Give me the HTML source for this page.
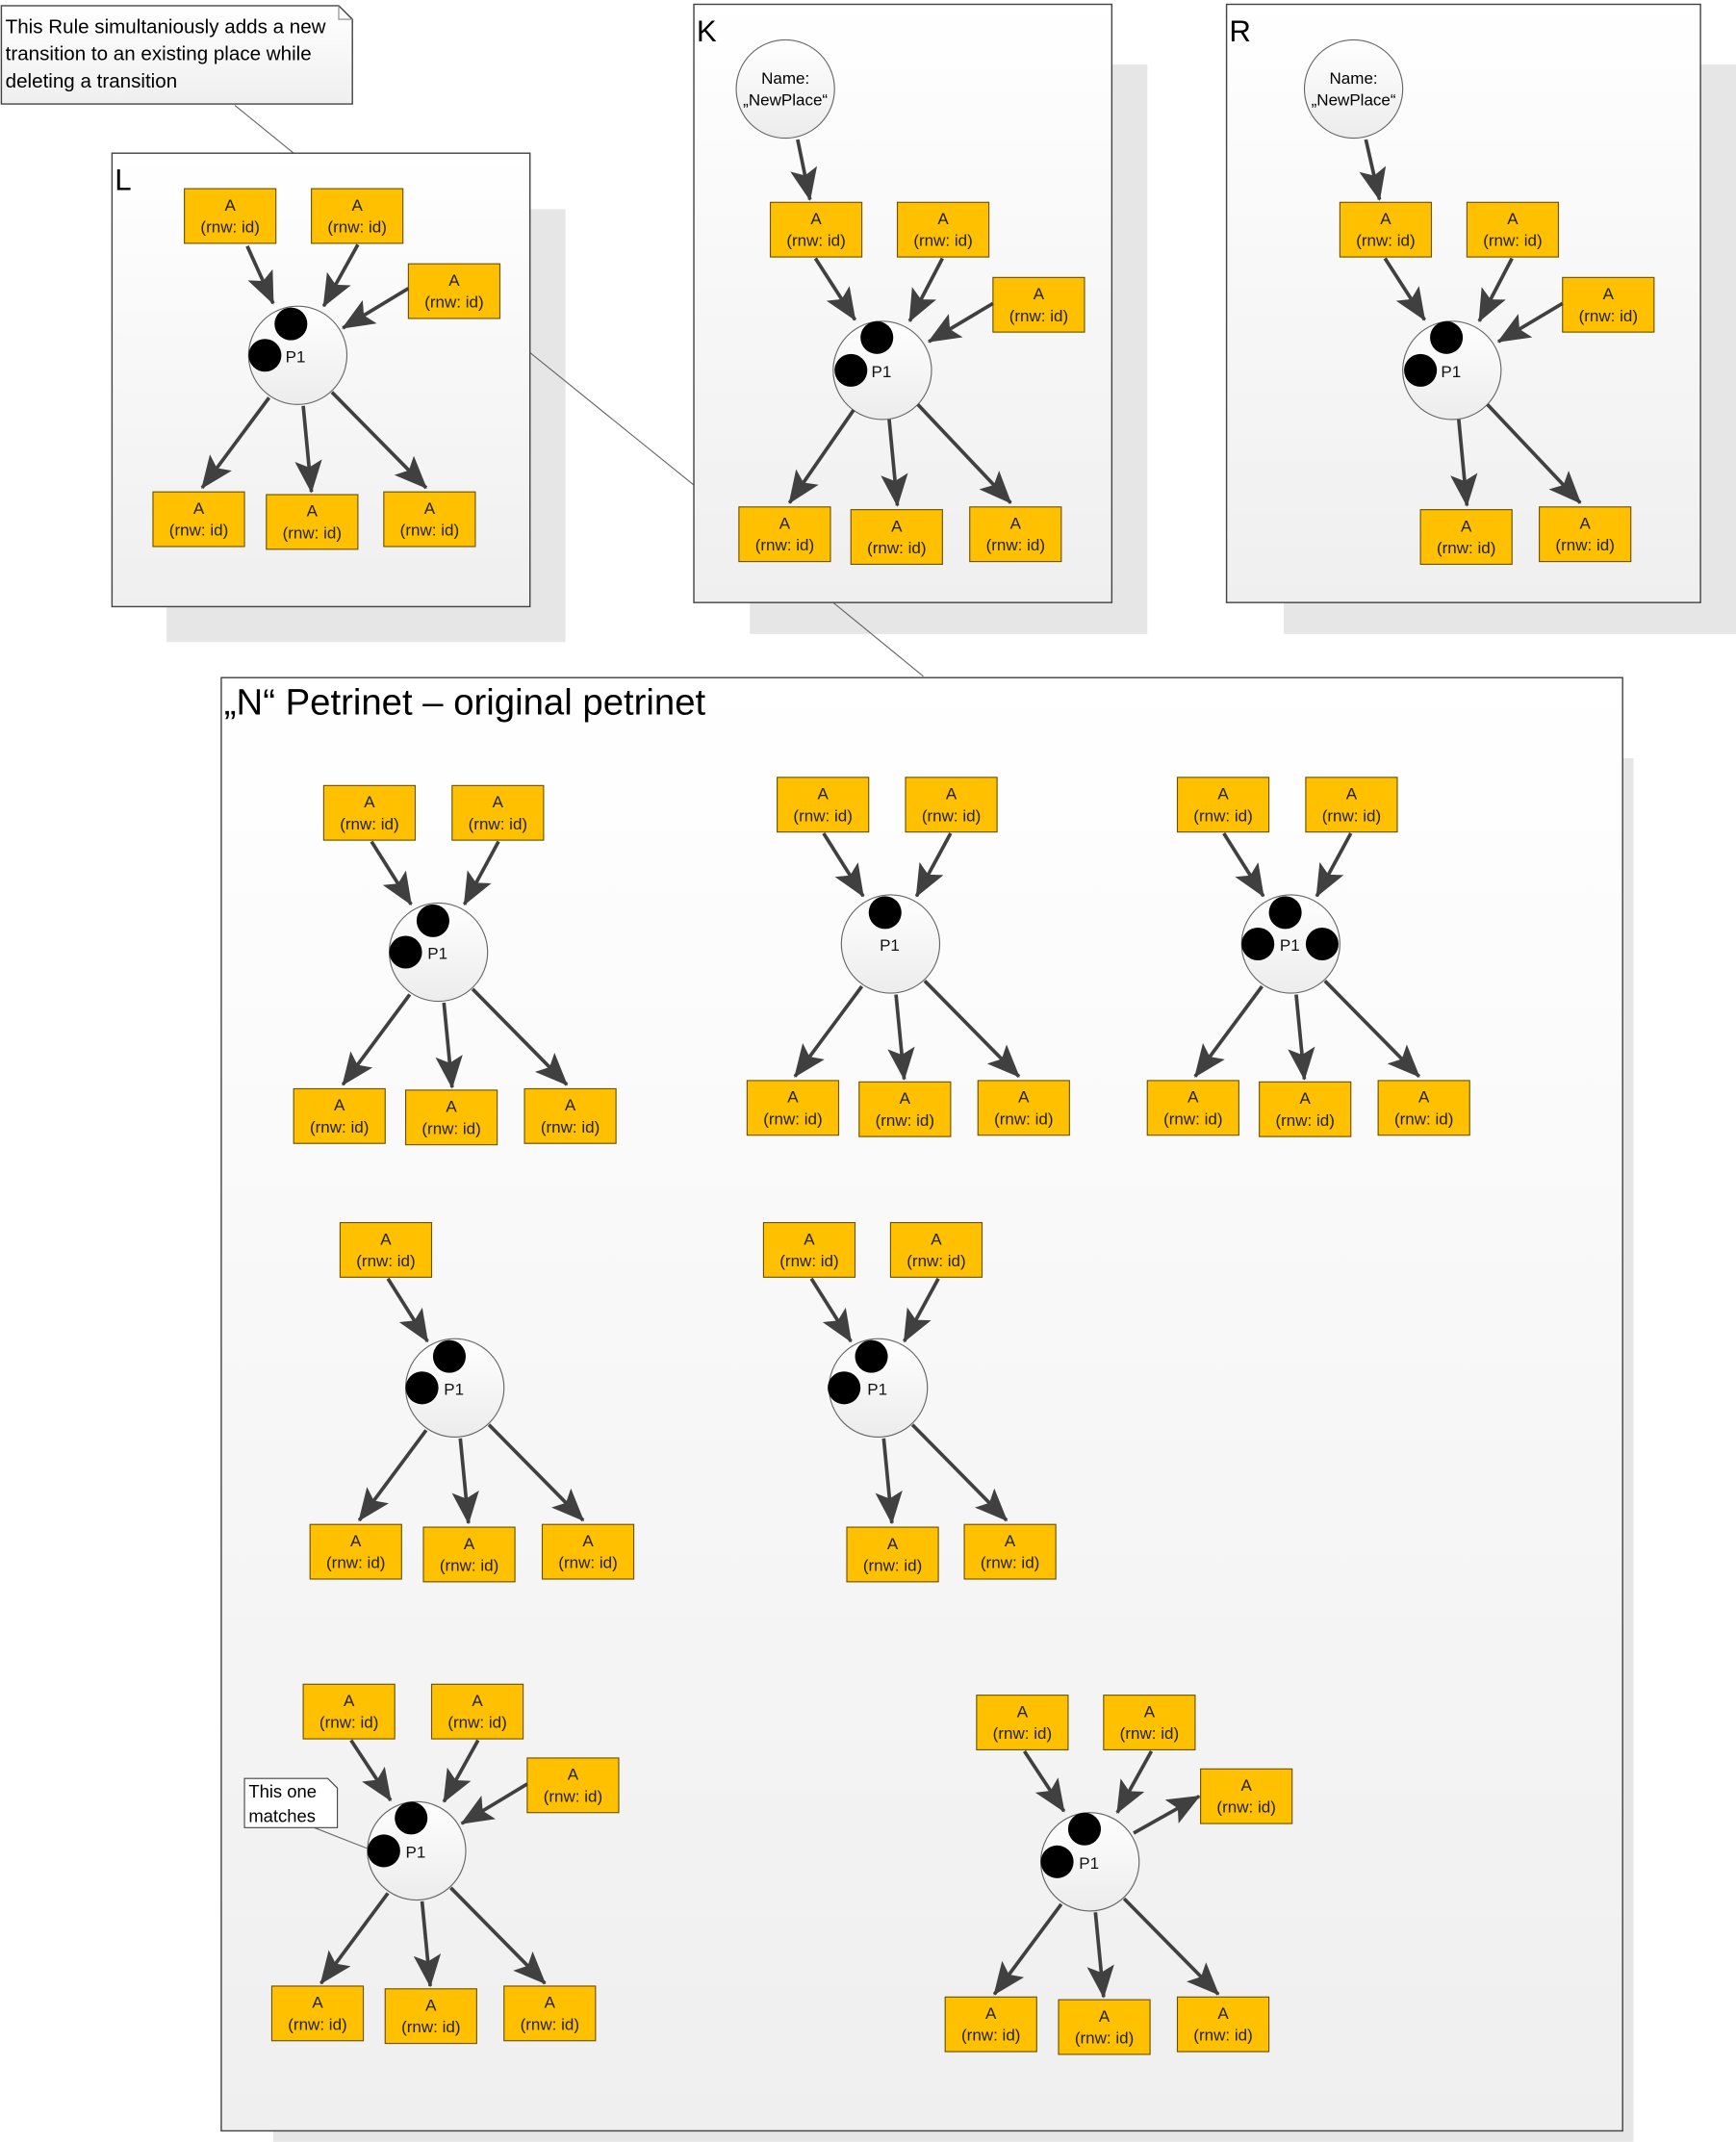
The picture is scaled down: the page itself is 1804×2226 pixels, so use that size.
<!DOCTYPE html>
<html><head><meta charset="utf-8">
<style>
html,body{margin:0;padding:0;background:#fff;}
svg{display:block;}
.t rect{fill:#FFC000;stroke:#6b5300;stroke-width:0.8;}
text{font-family:"Liberation Sans",sans-serif;}
.t text{font-size:12px;fill:#222;text-anchor:middle;}
.a{stroke:#404040;stroke-width:2.6;fill:none;marker-end:url(#ah);}
.pl{fill:url(#pg);stroke:#666;stroke-width:0.8;}
.pt{font-size:12px;fill:#111;}
</style></head><body>
<svg width="1804" height="2226" viewBox="0 0 1271 1568" xmlns="http://www.w3.org/2000/svg">
<defs>
<marker id="ah" markerUnits="userSpaceOnUse" markerWidth="26" markerHeight="22" refX="23" refY="10" orient="auto">
<path d="M0,0 L24,10 L0,20 L5,10 z" fill="#404040"/></marker>
<linearGradient id="bg" x1="0" y1="0" x2="0" y2="1"><stop offset="0" stop-color="#ffffff"/><stop offset="1" stop-color="#efefef"/></linearGradient>
<linearGradient id="pg" x1="0" y1="0" x2="0" y2="1"><stop offset="0" stop-color="#ffffff"/><stop offset="1" stop-color="#ececec"/></linearGradient>
</defs>

<rect x="122" y="153" width="292" height="317" fill="#e6e6e6"/>
<rect x="549" y="47" width="291" height="417" fill="#e6e6e6"/>
<rect x="940" y="47" width="331" height="417" fill="#e6e6e6"/>
<rect x="200" y="555" width="996" height="1013" fill="#e6e6e6"/>

<line x1="172" y1="77" x2="215" y2="112" stroke="#666" stroke-width="0.8"/>
<line x1="388" y1="258" x2="508" y2="355" stroke="#666" stroke-width="0.8"/>
<line x1="610" y1="441" x2="676" y2="495" stroke="#666" stroke-width="0.8"/>

<rect x="82" y="112" width="306" height="332" fill="url(#bg)" stroke="#444" stroke-width="1"/>
<rect x="508" y="3" width="306" height="438" fill="url(#bg)" stroke="#444" stroke-width="1"/>
<rect x="898" y="3" width="347" height="438" fill="url(#bg)" stroke="#444" stroke-width="1"/>
<rect x="162" y="496" width="1026" height="1064" fill="url(#bg)" stroke="#444" stroke-width="1"/>
<text x="84" y="139" font-size="22">L</text>
<text x="510" y="30" font-size="22">K</text>
<text x="900" y="30" font-size="22">R</text>
<text x="164" y="523" font-size="27">„N“ Petrinet – original petrinet</text>

<path d="M1,4 L248,4 L258,14 L258,76 L1,76 z" fill="url(#bg)" stroke="#444" stroke-width="1"/>
<path d="M248,4 L248,14 L258,14" fill="none" stroke="#888" stroke-width="0.8"/>
<text x="4" y="24" font-size="14.5">This Rule simultaniously adds a new</text>
<text x="4" y="44" font-size="14.5">transition to an existing place while</text>
<text x="4" y="64" font-size="14.5">deleting a transition</text>

<g class="t"><rect x="135" y="138" width="67" height="40"/><text x="168.5" y="154">A</text><text x="168.5" y="170">(rnw: id)</text></g>
<g class="t"><rect x="228" y="138" width="67" height="40"/><text x="261.5" y="154">A</text><text x="261.5" y="170">(rnw: id)</text></g>
<g class="t"><rect x="299" y="193" width="67" height="40"/><text x="332.5" y="209">A</text><text x="332.5" y="225">(rnw: id)</text></g>
<g class="t"><rect x="112" y="360" width="67" height="40"/><text x="145.5" y="376">A</text><text x="145.5" y="392">(rnw: id)</text></g>
<g class="t"><rect x="195" y="362" width="67" height="40"/><text x="228.5" y="378">A</text><text x="228.5" y="394">(rnw: id)</text></g>
<g class="t"><rect x="281" y="360" width="67" height="40"/><text x="314.5" y="376">A</text><text x="314.5" y="392">(rnw: id)</text></g>
<circle class="pl" cx="218" cy="260" r="36"/>
<circle cx="213" cy="237" r="12"/><circle cx="194" cy="260" r="12"/>
<text class="pt" x="209" y="265">P1</text>
<line class="a" x1="181" y1="180" x2="200" y2="222"/>
<line class="a" x1="262" y1="179" x2="237" y2="224"/>
<line class="a" x1="299" y1="211" x2="251" y2="240"/>
<line class="a" x1="197" y1="291" x2="148" y2="357"/>
<line class="a" x1="222" y1="297" x2="228" y2="360"/>
<line class="a" x1="243" y1="287" x2="312" y2="357"/>

<circle class="pl" cx="575" cy="65" r="36"/>
<text x="575" y="61" font-size="12" text-anchor="middle">Name:</text>
<text x="575" y="77" font-size="12" text-anchor="middle">„NewPlace“</text>
<line class="a" x1="584" y1="102" x2="593" y2="146"/>
<g class="t"><rect x="564" y="148" width="67" height="40"/><text x="597.5" y="164">A</text><text x="597.5" y="180">(rnw: id)</text></g>
<g class="t"><rect x="657" y="148" width="67" height="40"/><text x="690.5" y="164">A</text><text x="690.5" y="180">(rnw: id)</text></g>
<g class="t"><rect x="727" y="203" width="67" height="40"/><text x="760.5" y="219">A</text><text x="760.5" y="235">(rnw: id)</text></g>
<g class="t"><rect x="541" y="371" width="67" height="40"/><text x="574.5" y="387">A</text><text x="574.5" y="403">(rnw: id)</text></g>
<g class="t"><rect x="623" y="373" width="67" height="40"/><text x="656.5" y="389">A</text><text x="656.5" y="405">(rnw: id)</text></g>
<g class="t"><rect x="710" y="371" width="67" height="40"/><text x="743.5" y="387">A</text><text x="743.5" y="403">(rnw: id)</text></g>
<circle class="pl" cx="646" cy="271" r="36"/>
<circle cx="642" cy="247" r="12"/><circle cx="623" cy="271" r="12"/>
<text class="pt" x="638" y="276">P1</text>
<line class="a" x1="597" y1="189" x2="626" y2="234"/>
<line class="a" x1="690" y1="189" x2="666" y2="235"/>
<line class="a" x1="727" y1="222" x2="680" y2="250"/>
<line class="a" x1="625" y1="300" x2="578" y2="368"/>
<line class="a" x1="651" y1="307" x2="657" y2="370"/>
<line class="a" x1="672" y1="296" x2="740" y2="368"/>

<circle class="pl" cx="991" cy="65" r="36"/>
<text x="991" y="61" font-size="12" text-anchor="middle">Name:</text>
<text x="991" y="77" font-size="12" text-anchor="middle">„NewPlace“</text>
<line class="a" x1="1000" y1="102" x2="1010" y2="146"/>
<g class="t"><rect x="981" y="148" width="67" height="40"/><text x="1014.5" y="164">A</text><text x="1014.5" y="180">(rnw: id)</text></g>
<g class="t"><rect x="1074" y="148" width="67" height="40"/><text x="1107.5" y="164">A</text><text x="1107.5" y="180">(rnw: id)</text></g>
<g class="t"><rect x="1144" y="203" width="67" height="40"/><text x="1177.5" y="219">A</text><text x="1177.5" y="235">(rnw: id)</text></g>
<g class="t"><rect x="1040" y="373" width="67" height="40"/><text x="1073.5" y="389">A</text><text x="1073.5" y="405">(rnw: id)</text></g>
<g class="t"><rect x="1127" y="371" width="67" height="40"/><text x="1160.5" y="387">A</text><text x="1160.5" y="403">(rnw: id)</text></g>
<circle class="pl" cx="1063" cy="271" r="36"/>
<circle cx="1059" cy="247" r="12"/><circle cx="1040" cy="271" r="12"/>
<text class="pt" x="1055" y="276">P1</text>
<line class="a" x1="1014" y1="189" x2="1043" y2="234"/>
<line class="a" x1="1107" y1="189" x2="1083" y2="235"/>
<line class="a" x1="1144" y1="222" x2="1097" y2="250"/>
<line class="a" x1="1068" y1="307" x2="1074" y2="370"/>
<line class="a" x1="1089" y1="296" x2="1157" y2="368"/>

<g class="t"><rect x="237" y="575" width="67" height="40"/><text x="270.5" y="591">A</text><text x="270.5" y="607">(rnw: id)</text></g>
<g class="t"><rect x="331" y="575" width="67" height="40"/><text x="364.5" y="591">A</text><text x="364.5" y="607">(rnw: id)</text></g>
<g class="t"><rect x="215" y="797" width="67" height="40"/><text x="248.5" y="813">A</text><text x="248.5" y="829">(rnw: id)</text></g>
<g class="t"><rect x="297" y="798" width="67" height="40"/><text x="330.5" y="814">A</text><text x="330.5" y="830">(rnw: id)</text></g>
<g class="t"><rect x="384" y="797" width="67" height="40"/><text x="417.5" y="813">A</text><text x="417.5" y="829">(rnw: id)</text></g>
<circle class="pl" cx="321" cy="697" r="36"/>
<circle cx="317" cy="674" r="12"/><circle cx="297" cy="697" r="12"/>
<text class="pt" x="313" y="702">P1</text>
<line class="a" x1="272" y1="616" x2="301" y2="662"/>
<line class="a" x1="365" y1="616" x2="340" y2="662"/>
<line class="a" x1="300" y1="728" x2="251" y2="794"/>
<line class="a" x1="325" y1="734" x2="331" y2="796"/>
<line class="a" x1="346" y1="724" x2="415" y2="794"/>

<g class="t"><rect x="569" y="569" width="67" height="40"/><text x="602.5" y="585">A</text><text x="602.5" y="601">(rnw: id)</text></g>
<g class="t"><rect x="663" y="569" width="67" height="40"/><text x="696.5" y="585">A</text><text x="696.5" y="601">(rnw: id)</text></g>
<g class="t"><rect x="547" y="791" width="67" height="40"/><text x="580.5" y="807">A</text><text x="580.5" y="823">(rnw: id)</text></g>
<g class="t"><rect x="629" y="792" width="67" height="40"/><text x="662.5" y="808">A</text><text x="662.5" y="824">(rnw: id)</text></g>
<g class="t"><rect x="716" y="791" width="67" height="40"/><text x="749.5" y="807">A</text><text x="749.5" y="823">(rnw: id)</text></g>
<circle class="pl" cx="652" cy="691" r="36"/>
<circle cx="648" cy="668" r="12"/>
<text class="pt" x="644" y="696">P1</text>
<line class="a" x1="603" y1="610" x2="632" y2="656"/>
<line class="a" x1="696" y1="610" x2="671" y2="656"/>
<line class="a" x1="631" y1="722" x2="582" y2="788"/>
<line class="a" x1="656" y1="728" x2="662" y2="790"/>
<line class="a" x1="677" y1="718" x2="746" y2="788"/>

<g class="t"><rect x="862" y="569" width="67" height="40"/><text x="895.5" y="585">A</text><text x="895.5" y="601">(rnw: id)</text></g>
<g class="t"><rect x="956" y="569" width="67" height="40"/><text x="989.5" y="585">A</text><text x="989.5" y="601">(rnw: id)</text></g>
<g class="t"><rect x="840" y="791" width="67" height="40"/><text x="873.5" y="807">A</text><text x="873.5" y="823">(rnw: id)</text></g>
<g class="t"><rect x="922" y="792" width="67" height="40"/><text x="955.5" y="808">A</text><text x="955.5" y="824">(rnw: id)</text></g>
<g class="t"><rect x="1009" y="791" width="67" height="40"/><text x="1042.5" y="807">A</text><text x="1042.5" y="823">(rnw: id)</text></g>
<circle class="pl" cx="945" cy="691" r="36"/>
<circle cx="941" cy="668" r="12"/><circle cx="921" cy="691" r="12"/><circle cx="968" cy="691" r="12"/>
<text class="pt" x="937" y="696">P1</text>
<line class="a" x1="896" y1="610" x2="925" y2="656"/>
<line class="a" x1="989" y1="610" x2="964" y2="656"/>
<line class="a" x1="924" y1="722" x2="875" y2="788"/>
<line class="a" x1="949" y1="728" x2="955" y2="790"/>
<line class="a" x1="970" y1="718" x2="1039" y2="788"/>

<g class="t"><rect x="249" y="895" width="67" height="40"/><text x="282.5" y="911">A</text><text x="282.5" y="927">(rnw: id)</text></g>
<g class="t"><rect x="227" y="1116" width="67" height="40"/><text x="260.5" y="1132">A</text><text x="260.5" y="1148">(rnw: id)</text></g>
<g class="t"><rect x="310" y="1118" width="67" height="40"/><text x="343.5" y="1134">A</text><text x="343.5" y="1150">(rnw: id)</text></g>
<g class="t"><rect x="397" y="1116" width="67" height="40"/><text x="430.5" y="1132">A</text><text x="430.5" y="1148">(rnw: id)</text></g>
<circle class="pl" cx="333" cy="1016" r="36"/>
<circle cx="329" cy="993" r="12"/><circle cx="309" cy="1016" r="12"/>
<text class="pt" x="325" y="1021">P1</text>
<line class="a" x1="284" y1="936" x2="313" y2="982"/>
<line class="a" x1="312" y1="1047" x2="263" y2="1113"/>
<line class="a" x1="337" y1="1053" x2="343" y2="1115"/>
<line class="a" x1="358" y1="1043" x2="427" y2="1113"/>

<g class="t"><rect x="559" y="895" width="67" height="40"/><text x="592.5" y="911">A</text><text x="592.5" y="927">(rnw: id)</text></g>
<g class="t"><rect x="652" y="895" width="67" height="40"/><text x="685.5" y="911">A</text><text x="685.5" y="927">(rnw: id)</text></g>
<g class="t"><rect x="620" y="1118" width="67" height="40"/><text x="653.5" y="1134">A</text><text x="653.5" y="1150">(rnw: id)</text></g>
<g class="t"><rect x="706" y="1116" width="67" height="40"/><text x="739.5" y="1132">A</text><text x="739.5" y="1148">(rnw: id)</text></g>
<circle class="pl" cx="643" cy="1016" r="36"/>
<circle cx="638" cy="993" r="12"/><circle cx="618" cy="1016" r="12"/>
<text class="pt" x="635" y="1021">P1</text>
<line class="a" x1="594" y1="936" x2="623" y2="982"/>
<line class="a" x1="687" y1="936" x2="662" y2="982"/>
<line class="a" x1="647" y1="1053" x2="653" y2="1115"/>
<line class="a" x1="668" y1="1043" x2="737" y2="1113"/>

<g class="t"><rect x="222" y="1233" width="67" height="40"/><text x="255.5" y="1249">A</text><text x="255.5" y="1265">(rnw: id)</text></g>
<g class="t"><rect x="316" y="1233" width="67" height="40"/><text x="349.5" y="1249">A</text><text x="349.5" y="1265">(rnw: id)</text></g>
<g class="t"><rect x="386" y="1287" width="67" height="40"/><text x="419.5" y="1303">A</text><text x="419.5" y="1319">(rnw: id)</text></g>
<g class="t"><rect x="199" y="1454" width="67" height="40"/><text x="232.5" y="1470">A</text><text x="232.5" y="1486">(rnw: id)</text></g>
<g class="t"><rect x="282" y="1456" width="67" height="40"/><text x="315.5" y="1472">A</text><text x="315.5" y="1488">(rnw: id)</text></g>
<g class="t"><rect x="369" y="1454" width="67" height="40"/><text x="402.5" y="1470">A</text><text x="402.5" y="1486">(rnw: id)</text></g>
<line x1="230" y1="1338" x2="276" y2="1356" stroke="#666" stroke-width="0.8"/>
<path d="M179,1302 L240,1302 L247,1309 L247,1338 L179,1338 z" fill="#fff" stroke="#444" stroke-width="0.8"/>
<text x="182" y="1316" font-size="13">This one</text>
<text x="182" y="1334" font-size="13">matches</text>
<circle class="pl" cx="305" cy="1355" r="36"/>
<circle cx="301" cy="1331" r="12"/><circle cx="281" cy="1355" r="12"/>
<text class="pt" x="297" y="1360">P1</text>
<line class="a" x1="257" y1="1274" x2="286" y2="1318"/>
<line class="a" x1="350" y1="1274" x2="325" y2="1319"/>
<line class="a" x1="386" y1="1306" x2="338" y2="1335"/>
<line class="a" x1="284" y1="1386" x2="235" y2="1452"/>
<line class="a" x1="309" y1="1392" x2="315" y2="1454"/>
<line class="a" x1="330" y1="1382" x2="399" y2="1452"/>

<g class="t"><rect x="715" y="1241" width="67" height="40"/><text x="748.5" y="1257">A</text><text x="748.5" y="1273">(rnw: id)</text></g>
<g class="t"><rect x="808" y="1241" width="67" height="40"/><text x="841.5" y="1257">A</text><text x="841.5" y="1273">(rnw: id)</text></g>
<g class="t"><rect x="879" y="1295" width="67" height="40"/><text x="912.5" y="1311">A</text><text x="912.5" y="1327">(rnw: id)</text></g>
<g class="t"><rect x="692" y="1462" width="67" height="40"/><text x="725.5" y="1478">A</text><text x="725.5" y="1494">(rnw: id)</text></g>
<g class="t"><rect x="775" y="1464" width="67" height="40"/><text x="808.5" y="1480">A</text><text x="808.5" y="1496">(rnw: id)</text></g>
<g class="t"><rect x="862" y="1462" width="67" height="40"/><text x="895.5" y="1478">A</text><text x="895.5" y="1494">(rnw: id)</text></g>
<circle class="pl" cx="798" cy="1363" r="36"/>
<circle cx="794" cy="1339" r="12"/><circle cx="774" cy="1363" r="12"/>
<text class="pt" x="790" y="1368">P1</text>
<line class="a" x1="750" y1="1282" x2="779" y2="1326"/>
<line class="a" x1="843" y1="1282" x2="818" y2="1327"/>
<line class="a" x1="830" y1="1342" x2="878" y2="1315"/>
<line class="a" x1="777" y1="1394" x2="728" y2="1460"/>
<line class="a" x1="802" y1="1400" x2="808" y2="1462"/>
<line class="a" x1="823" y1="1390" x2="892" y2="1460"/>
</svg>
</body></html>
